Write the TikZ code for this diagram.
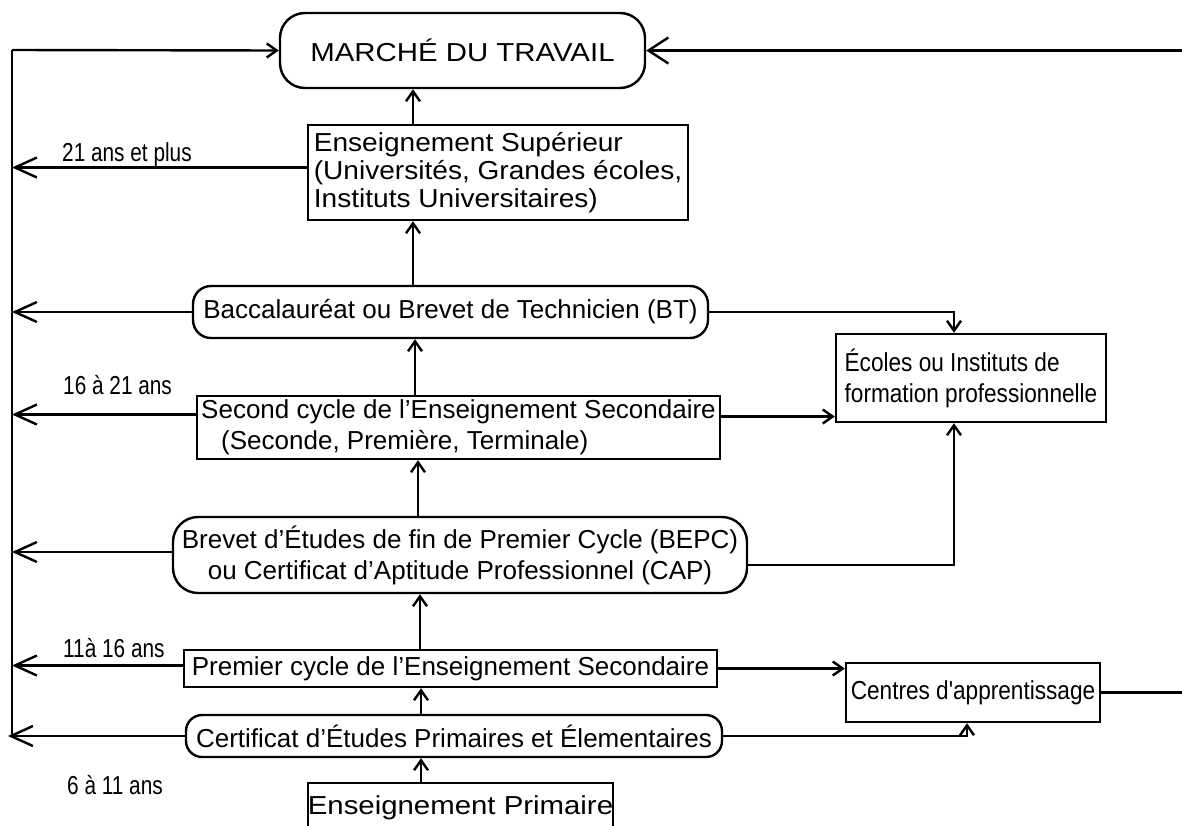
\documentclass[tikz,border=0pt]{standalone}
\usepackage{fontspec}
\setmainfont{Liberation Sans}
\newfontfamily\wideA[FakeStretch=1.13]{Liberation Sans}
\newfontfamily\wideB[FakeStretch=1.08]{Liberation Sans}
\newfontfamily\narrowA[FakeStretch=0.8]{Liberation Sans}
\newfontfamily\narrowB[FakeStretch=0.87]{Liberation Sans}
\usetikzlibrary{arrows.meta}
\begin{document}
\begin{tikzpicture}[x=1pt,y=-1pt,
  every node/.style={font=\fontsize{26}{31}\selectfont, inner sep=0pt},
  ln/.style={line width=2.4pt},
  box/.style={draw, ln},
  arr/.style={ln, -{Straight Barb[length=10pt,width=14pt]}},
  bigarr/.style={ln, -{Straight Barb[length=22pt,width=20pt]}},
  toparr/.style={ln, -{Straight Barb[length=20pt,width=26pt]}},
  lab/.style={anchor=west, font=\narrowA\fontsize{26}{31}\selectfont}]
\useasboundingbox (0,0) rectangle (1182,825);

\node[box, minimum width=365, minimum height=75, rounded corners=25, font=\wideA\fontsize{26}{31}\selectfont] (marche) at (462.5,50.5) {MARCHÉ DU TRAVAIL};
\node[box, minimum width=380, minimum height=95, align=left, font=\wideB\fontsize{26}{28}\selectfont] (sup) at (498,172.5)
  {Enseignement Supérieur\\(Universités, Grandes écoles,\\Instituts Universitaires)};
\node[box, minimum width=515, minimum height=52, rounded corners=18] (bac) at (450.5,312) {Baccalauréat ou Brevet de Technicien (BT)};
\node[box, minimum width=270, minimum height=88, align=left, font=\narrowB\fontsize{26}{31}\selectfont] (ecoles) at (971,378) {Écoles ou Instituts de\\formation professionnelle};
\node[box, minimum width=523, minimum height=63, align=left] (second) at (458.5,427.5)
  {Second cycle de l'Enseignement Secondaire\\\hspace*{20pt}(Seconde, Première, Terminale)};
\node[box, minimum width=574, minimum height=76, rounded corners=25, align=center] (brevet) at (460,555)
  {Brevet d'Études de fin de Premier Cycle (BEPC)\\ou Certificat d'Aptitude Professionnel (CAP)};
\node[box, minimum width=533, minimum height=37] (premier) at (450.5,668.5) {Premier cycle de l'Enseignement Secondaire};
\node[box, minimum width=254, minimum height=59, font=\narrowB\fontsize{26}{31}\selectfont] (centres) at (973,692.5) {Centres d'apprentissage};
\node[box, minimum width=536, minimum height=42, rounded corners=16] (certif) at (454,736) {Certificat d'Études Primaires et Élementaires};
\node[box, minimum width=305, text height=31pt, text depth=22pt, anchor=north, font=\wideA\fontsize{26}{31}\selectfont] (primaire) at (460.5,782) {Enseignement Primaire};

\node[lab] (l1) at (62,155) {21 ans et plus};
\node[lab] (l2) at (63,385) {16 à 21 ans};
\node[lab] (l3) at (63,648) {11à 16 ans};
\node[lab] (l4) at (67,785) {6 à 11 ans};

\coordinate (Ltop) at (12,50);
\coordinate (Lbot) at (12,736);
\coordinate (v1) at (413,0);
\coordinate (v2) at (415,0);
\coordinate (v3) at (418,0);
\coordinate (v4) at (420,0);
\coordinate (v5) at (421,0);
\coordinate (ex) at (954,0);
\coordinate (cx) at (967,0);
\coordinate (far) at (1195,0);

% left spine
\draw[ln] (Lbot) -- (Ltop);
\draw[arr] (Ltop) -- (marche.west);
\draw[bigarr] ([yshift=5pt]sup.west) -- ([yshift=5pt]sup.west -| Ltop);
\draw[bigarr] (bac.west) -- (bac.west -| Ltop);
\draw[bigarr] ([yshift=13pt]second.west) -- ([yshift=13pt]second.west -| Ltop);
\draw[bigarr] ([yshift=3pt]brevet.west) -- ([yshift=3pt]brevet.west -| Ltop);
\draw[bigarr] ([yshift=3pt]premier.west) -- ([yshift=3pt]premier.west -| Ltop);
\draw[bigarr] (certif.west) -- ([xshift=-4pt]certif.west -| Ltop);

% vertical chain
\draw[arr] (sup.north -| v1) -- (marche.south -| v1);
\draw[arr] (bac.north -| v1) -- (sup.south -| v1);
\draw[arr] (second.north -| v2) -- (bac.south -| v2);
\draw[arr] (brevet.north -| v3) -- (second.south -| v3);
\draw[arr] (premier.north -| v4) -- (brevet.south -| v4);
\draw[arr] (certif.north -| v5) -- (premier.south -| v5);
\draw[arr] (primaire.north -| v5) -- (certif.south -| v5);

% right side
\draw[arr] (bac.east) -| (ecoles.north -| ex);
\draw[arr] ([yshift=11pt]second.east) -- ([yshift=11pt]second.east -| ecoles.west);
\draw[arr] ([yshift=-10pt]brevet.east) -| (ecoles.south -| ex);
\draw[arr] (premier.east) -- (premier.east -| centres.west);
\draw[arr] (certif.east) -| (centres.south -| cx);
\draw[toparr] (centres.east) -- (centres.east -| far) |- (marche.east);
\end{tikzpicture}
\end{document}
